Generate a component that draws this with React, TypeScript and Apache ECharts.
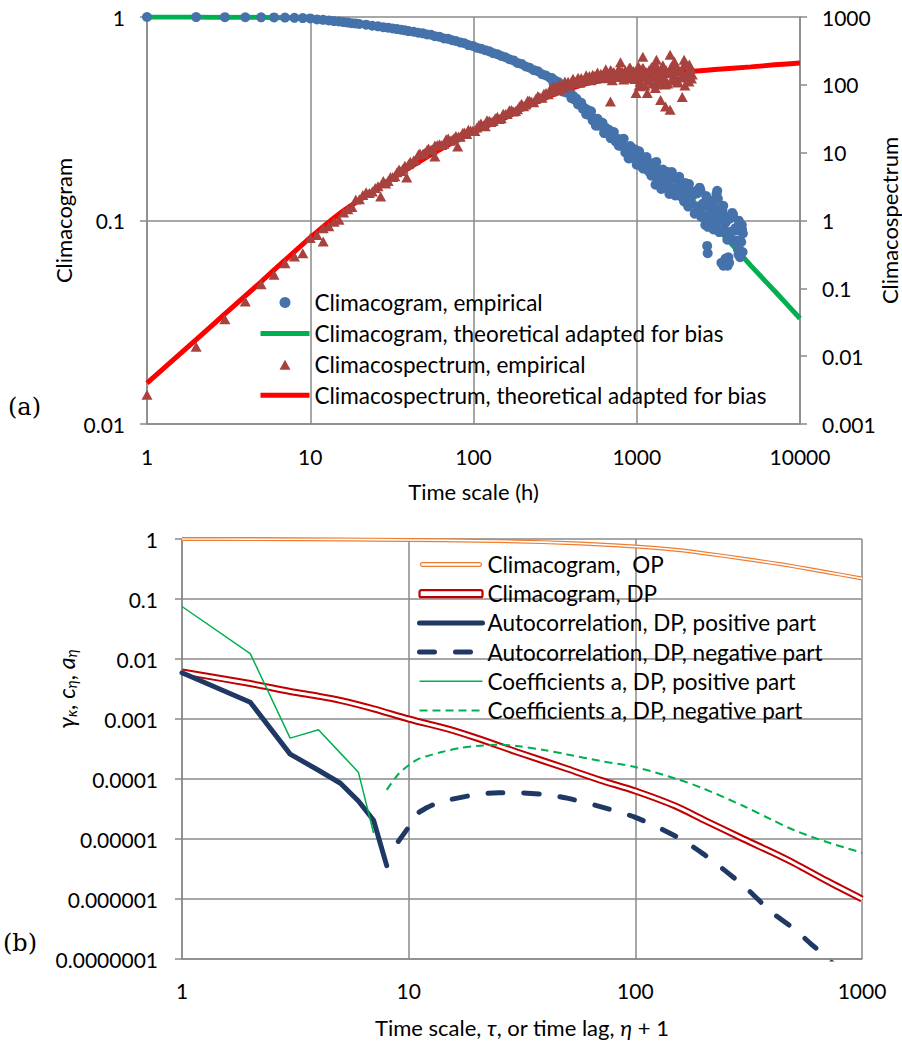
import React, { useEffect, useRef } from 'react';
import * as echarts from 'echarts';

// ---------------- Panel (a) data ----------------
// Empirical climacogram [time scale (h), value]
const climacogramEmpiricalFine: [number, number][] = [
  [1, 1.0], [2, 0.999], [3, 0.998], [4, 0.997], [5, 0.996], [6, 0.995], [7, 0.993], [8, 0.991], [9, 0.988], [10, 0.984],
  [11, 0.973], [12, 0.968], [13, 0.962], [14, 0.955], [15, 0.95], [16, 0.944], [17, 0.939], [18, 0.933], [19, 0.93], [20, 0.924],
  [22, 0.917], [24, 0.906], [26, 0.9], [28, 0.891], [30, 0.886], [32, 0.878], [34, 0.872], [36, 0.866], [38, 0.86], [40, 0.853],
  [43, 0.846], [46, 0.837], [49, 0.831], [52, 0.82], [55, 0.818], [58, 0.805], [62, 0.799], [66, 0.785], [70, 0.781], [74, 0.769],
  [78, 0.762], [83, 0.75], [88, 0.743], [93, 0.728], [99, 0.721], [105, 0.706], [111, 0.699], [118, 0.687], [125, 0.678], [132, 0.664],
  [140, 0.657], [148, 0.643], [157, 0.634], [166, 0.62], [176, 0.612], [186, 0.595], [197, 0.588], [209, 0.571], [221, 0.563], [234, 0.548],
  [248, 0.541], [263, 0.523], [278, 0.516], [295, 0.502],
];
const climacogramEmpiricalMid: [number, number][] = [
  [302, 0.501], [309, 0.474], [316, 0.487], [324, 0.468], [331, 0.479], [339, 0.448], [347, 0.452], [355, 0.429], [363, 0.448], [372, 0.425],
  [380, 0.428], [389, 0.43], [398, 0.399], [407, 0.41], [417, 0.392], [427, 0.397], [437, 0.372], [447, 0.374], [457, 0.379], [468, 0.353],
  [479, 0.357], [490, 0.333], [501, 0.349], [513, 0.329], [525, 0.344], [537, 0.31], [550, 0.317], [562, 0.292], [575, 0.316], [589, 0.292],
  [603, 0.297], [617, 0.302], [631, 0.269], [646, 0.285], [661, 0.27], [676, 0.279], [692, 0.254], [708, 0.261], [724, 0.272], [741, 0.245],
  [759, 0.252], [776, 0.233], [794, 0.251], [813, 0.232], [832, 0.252], [851, 0.216], [871, 0.227], [891, 0.202], [912, 0.232], [933, 0.207],
  [955, 0.215], [977, 0.223], [1000, 0.188], [1023, 0.209], [1047, 0.193], [1072, 0.206], [1096, 0.18], [1122, 0.189], [1148, 0.205], [1175, 0.176],
  [1202, 0.186], [1230, 0.166], [1259, 0.188], [1288, 0.169], [1318, 0.194], [1349, 0.155], [1380, 0.169], [1413, 0.143], [1445, 0.178], [1479, 0.151],
  [1514, 0.162], [1549, 0.173], [1585, 0.135], [1622, 0.16], [1660, 0.144], [1698, 0.161], [1738, 0.133], [1778, 0.145], [1820, 0.164], [1862, 0.132],
  [1905, 0.146], [1950, 0.124], [1995, 0.146], [2042, 0.131], [2089, 0.151], [2138, 0.121], [2188, 0.132],
];
const climacogramEmpiricalMidExtra: [number, number][] = [
  [902, 0.202], [944, 0.225], [989, 0.2], [1035, 0.219], [1084, 0.182], [1135, 0.191], [1189, 0.174], [1245, 0.191], [1303, 0.15], [1365, 0.177],
  [1429, 0.144], [1496, 0.172], [1567, 0.148], [1641, 0.173], [1718, 0.133], [1799, 0.148], [1884, 0.131], [1972, 0.153], [2065, 0.117], [2163, 0.138],
];
const climacogramEmpiricalTail: [number, number][] = [
  [2239, 0.136], [2291, 0.109], [2344, 0.136], [2399, 0.117], [2455, 0.141], [2512, 0.105], [2570, 0.118], [2630, 0.0951], [2692, 0.128], [2754, 0.103],
  [2818, 0.114], [2884, 0.125], [2951, 0.0904], [3020, 0.113], [3090, 0.0982], [3162, 0.114], [3236, 0.0887], [3311, 0.0995], [3388, 0.118], [3467, 0.0883],
  [3548, 0.101], [3631, 0.0813], [3715, 0.102], [3802, 0.0883], [3890, 0.107], [3981, 0.0798], [4074, 0.0895], [4169, 0.0721], [4266, 0.0973], [4365, 0.0783],
  [4467, 0.0863],
  [2265, 0.108], [2317, 0.14], [2371, 0.116], [2427, 0.145], [2483, 0.104], [2541, 0.121], [2600, 0.105], [2661, 0.132], [2723, 0.0931], [2786, 0.119],
  [2851, 0.107], [2917, 0.0962], [2985, 0.125], [3055, 0.101], [3126, 0.113], [3199, 0.0877], [3273, 0.106], [3350, 0.112], [3428, 0.0906], [3508, 0.0979],
  [3589, 0.0804], [3673, 0.104], [3758, 0.0873], [3846, 0.109], [3936, 0.0789], [4027, 0.0918], [4121, 0.0796], [4217, 0.0998], [4315, 0.0706], [4416, 0.0902],
  [2700, 0.075], [2720, 0.069], [3080, 0.135], [3110, 0.14], [3140, 0.128], [3300, 0.062], [3400, 0.06], [3500, 0.065], [3560, 0.064], [3600, 0.06],
  [3640, 0.066], [3680, 0.062], [4200, 0.068], [4300, 0.066], [4400, 0.095], [4450, 0.07],
];

// Empirical climacospectrum [time scale (h), value]
const climacospectrumEmpiricalFine: [number, number][] = [
  [1, 0.0027], [2, 0.0138], [3, 0.035], [4, 0.064], [5, 0.115], [6, 0.158], [7, 0.235], [8, 0.295], [9, 0.33], [10, 0.55],
  [11, 0.61], [12, 0.766], [12, 0.49], [13, 0.82], [14, 0.959], [15, 1.03], [16, 1.31], [17, 1.46], [18, 1.58], [19, 2.04],
  [20, 2.05], [22, 2.6], [24, 2.67], [26, 3.21], [27, 2.26], [28, 3.82], [30, 3.82], [32, 4.37], [34, 5.14], [36, 5.37],
  [38, 6.44], [39, 4.3], [40, 6.73], [43, 7.67], [46, 9.42], [49, 9.64], [52, 11.0], [55, 11.0], [58, 12.8], [58, 8.8],
  [62, 13.3], [66, 13.5], [70, 16.2], [74, 15.5], [78, 17.6], [80, 12.3], [83, 17.2], [88, 19.8], [93, 21.7], [99, 21.0],
  [105, 23.4], [111, 26.8], [118, 24.5], [125, 29.6], [132, 29.4], [140, 33.9], [148, 32.2], [157, 37.0], [166, 42.3], [176, 40.4],
  [186, 43.6], [197, 52.7], [209, 51.5], [221, 58.3], [234, 55.5], [248, 68.2], [263, 64.3], [278, 75.5], [295, 86.3],
];
const climacospectrumEmpiricalFineExtra: [number, number][] = [
  [21, 2.37], [23, 2.54], [25, 3.01], [29, 3.51], [31, 4.38], [33, 4.51], [35, 5.64], [37, 5.79], [41, 7.36], [44, 7.8],
  [47, 9.76], [50, 9.92], [53, 11.5], [56, 11.1], [60, 13.0], [64, 13.0], [68, 15.8], [72, 15.0], [76, 16.4], [81, 17.3],
  [86, 19.7], [91, 18.9], [96, 21.3], [102, 20.9], [108, 25.5], [115, 25.4], [121, 30.0], [128, 28.3], [136, 32.1], [144, 31.4],
  [152, 37.5], [161, 37.3], [171, 42.4], [181, 41.1], [191, 48.5], [203, 48.3], [215, 58.9], [227, 56.4], [241, 62.4], [255, 65.8],
  [270, 74.0], [287, 72.5],
];
const climacospectrumEmpiricalMid: [number, number][] = [
  [302, 80.4], [309, 95.5], [316, 87.1], [324, 95.5], [331, 83.2], [339, 101], [347, 96.6], [355, 90.2], [363, 112], [372, 98.9],
  [380, 111], [389, 97.7], [398, 111], [407, 123], [417, 106], [427, 115], [437, 127], [447, 107], [457, 126], [468, 117],
  [479, 117], [490, 138], [501, 124], [513, 135], [525, 117], [537, 141], [550, 135], [562, 124], [575, 152], [589, 132],
  [603, 146], [617, 127], [631, 143], [646, 170], [661, 125], [676, 143], [692, 166], [708, 117], [724, 154], [741, 133],
  [759, 130], [776, 171], [794, 139], [813, 157], [832, 120], [851, 164], [871, 148], [891, 125], [912, 178], [933, 136],
  [955, 160], [977, 122], [1000, 148], [1023, 188], [1047, 112], [1072, 138], [1096, 176], [1122, 97.7], [1148, 153], [1175, 120],
  [1202, 116], [1230, 182], [1259, 129], [1288, 158], [1318, 101], [1349, 170], [1380, 143], [1413, 108], [1445, 195], [1479, 124],
  [1514, 164], [1549, 105], [1585, 158], [1622, 182], [1660, 121], [1698, 140], [1738, 188], [1778, 110], [1820, 160], [1862, 128],
  [1905, 143], [1950, 196], [1995, 132], [2042, 150], [2089, 112], [2138, 175], [2188, 142],
];
const climacospectrumEmpiricalMidExtra: [number, number][] = [
  [902, 178], [944, 126], [989, 155], [1035, 97.7], [1084, 176], [1135, 129], [1189, 164], [1245, 105], [1303, 195], [1365, 120],
  [1429, 170], [1496, 101], [1567, 148], [1641, 116], [1718, 182], [1799, 108], [1884, 158], [1972, 97.7], [2065, 143], [2163, 124],
  [690, 57], [990, 76], [1160, 76], [1400, 60], [1500, 48], [1600, 43], [1900, 66], [1300, 90], [1050, 95],
  [795, 215], [1090, 260], [1320, 235], [1600, 278], [1950, 235], [1700, 220], [2100, 200],
];

// Theoretical curves (adapted for bias)
const theoryScales = [1, 2, 3, 5, 7, 10, 15, 20, 30, 50, 70, 100, 150, 200, 300, 500, 700, 1000, 1500, 2200, 3000, 5000, 7000, 10000];
const climacogramTheory = [1, 0.999, 0.998, 0.996, 0.992, 0.984, 0.95, 0.925, 0.885, 0.822, 0.78, 0.72, 0.645, 0.585, 0.5, 0.345, 0.268, 0.205, 0.155, 0.125, 0.095, 0.06, 0.045, 0.033];
const climacospectrumTheory = [0.004, 0.0175, 0.042, 0.125, 0.26, 0.56, 1.25, 2.0, 3.8, 8.2, 13, 20, 31, 44, 70, 105, 122, 136, 148, 158, 168, 184, 197, 210];

// ---------------- Panel (b) data ----------------
const opScales = [1, 2, 5, 10, 20, 30, 50, 70, 100, 150, 200, 300, 400, 500, 700, 1000];
const climacogramOP = [1.0, 0.997, 0.985, 0.965, 0.935, 0.91, 0.86, 0.81, 0.75, 0.66, 0.58, 0.47, 0.4, 0.35, 0.28, 0.22];

const dpScales = [1, 2, 3, 4, 5, 7, 10, 15, 20, 30, 50, 70, 100, 150, 200, 300, 400, 500, 700, 1000];
const climacogramDP = [0.0061, 0.0039, 0.00288, 0.0024, 0.00204, 0.00148, 0.001, 0.000676, 0.000479, 0.000282, 0.000148, 0.0000955, 0.000063, 0.0000355, 0.0000209, 0.00001, 0.00000603, 0.00000398, 0.000002, 0.000001];

const acfPosLags = [1, 2, 3, 4, 5, 6, 7, 8];
const acfPositive = [0.0059, 0.0019, 0.00026, 0.00014, 0.000085, 0.000043, 0.0000205, 0.0000036];
const acfNegLags = [9, 10, 11, 12, 13, 15, 20, 25, 30, 40, 50, 70, 100, 150, 200, 300, 400, 500, 600, 700, 800];
const acfNegative = [0.0000091, 0.0000158, 0.0000269, 0.0000331, 0.000038, 0.0000447, 0.000055, 0.0000589, 0.0000589, 0.000055, 0.0000479, 0.0000347, 0.0000229, 0.0000112, 0.0000056, 0.00000166, 0.0000006, 0.00000032, 0.000000174, 0.000000105, 0.000000063];

const coefPosLags = [1, 2, 3, 4, 5, 6, 7];
const coefPositive = [0.075, 0.0123, 0.00048, 0.00066, 0.00027, 0.00013, 0.0000126];
const coefNegLags = [8, 9, 10, 11, 12, 14, 17, 20, 25, 30, 40, 50, 70, 100, 150, 200, 300, 400, 500, 700, 1000];
const coefNegative = [0.000066, 0.00012, 0.00017, 0.000214, 0.00024, 0.000282, 0.000331, 0.000355, 0.000372, 0.000355, 0.000302, 0.000257, 0.0002, 0.000158, 0.000102, 0.0000692, 0.0000355, 0.0000209, 0.0000141, 0.0000089, 0.0000059];

// ---------------- styling ----------------
const FONT = 'Lato, "Noto Sans", sans-serif';
const GRIDC = '#8A8A8A';
const BLUE = '#4672AB';
const BROWN = '#A8423E';
const RED = '#FF0000';
const GREEN = '#00B050';
const ORANGE = '#ED7D31';
const DPRED = '#C00000';
const NAVY = '#1F3864';
const NOSYM = { color: 'rgba(0,0,0,0)', borderColor: 'rgba(0,0,0,0)', borderWidth: 0 };
// legend icons drawn inside the full icon box (leading moveTos fix the box)
const TRIANGLE_ICON = 'path://M0,0M49,11M19,11L24.5,1L30,11Z';
const OP_ICON = 'path://M0,0M63,7M3,1.6L60,1.6A1.9,1.9,0,0,1,60,5.4L3,5.4A1.9,1.9,0,0,1,3,1.6Z';

const zip = (xs: number[], ys: number[]) => xs.map((x, i) => [x, ys[i]]);

function fmtPow(v: number) {
  const e = Math.round(Math.log10(v));
  return e >= 0 ? String(Math.pow(10, e)) : Math.pow(10, e).toFixed(-e);
}

const lineSty = { color: GRIDC, width: 1.5 };
const labelSty = (margin: number) => ({ color: '#000', fontSize: 21, fontFamily: FONT, margin, formatter: fmtPow });
const nameSty = { color: '#000', fontSize: 22, fontFamily: FONT };
const legendText = { fontSize: 22.5, fontFamily: FONT, color: '#000', lineHeight: 22 };

function buildOption(): any {
  return {
    animation: false,
    backgroundColor: '#fff',
    textStyle: { fontFamily: FONT },
    grid: [
      { left: 147, top: 17, width: 653, height: 407, outerBoundsMode: 'none' },
      { left: 182, top: 539, width: 680, height: 420, outerBoundsMode: 'none' },
    ],
    xAxis: [
      {
        type: 'log', gridIndex: 0, min: 1, max: 10000, logBase: 10,
        axisLine: { show: true, lineStyle: lineSty },
        axisTick: { show: false },
        splitLine: { show: true, lineStyle: lineSty },
        axisLabel: labelSty(22),
        name: 'Time scale (h)', nameLocation: 'middle', nameGap: 56, nameMoveOverlap: false,
        nameTextStyle: nameSty,
      },
      {
        type: 'log', gridIndex: 1, min: 1, max: 1000, logBase: 10,
        axisLine: { show: true, lineStyle: lineSty },
        axisTick: { show: false },
        splitLine: { show: true, lineStyle: lineSty },
        axisLabel: labelSty(21),
        name: 'Time scale, {i|τ}, or time lag, {i|η} + 1', nameLocation: 'middle', nameGap: 57, nameMoveOverlap: false,
        nameTextStyle: { ...nameSty, rich: { i: { fontStyle: 'italic', fontSize: 22, fontFamily: FONT, color: '#000' } } },
      },
    ],
    yAxis: [
      {
        type: 'log', gridIndex: 0, min: 0.01, max: 1, logBase: 10, position: 'left',
        axisLine: { show: true, lineStyle: lineSty },
        axisTick: { show: true, length: 7, inside: false, lineStyle: lineSty },
        splitLine: { show: true, lineStyle: lineSty },
        axisLabel: labelSty(22),
        name: 'Climacogram', nameLocation: 'middle', nameRotate: 90, nameGap: 73, nameMoveOverlap: false,
        nameTextStyle: nameSty,
      },
      {
        type: 'log', gridIndex: 0, min: 0.001, max: 1000, logBase: 10, position: 'right',
        axisLine: { show: true, lineStyle: lineSty },
        axisTick: { show: true, length: 7, inside: false, lineStyle: lineSty },
        splitLine: { show: false },
        axisLabel: labelSty(22),
        name: 'Climacospectrum', nameLocation: 'middle', nameRotate: 90, nameGap: 78, nameMoveOverlap: false,
        nameTextStyle: nameSty,
      },
      {
        type: 'log', gridIndex: 1, min: 0.0000001, max: 1, logBase: 10, position: 'left',
        axisLine: { show: true, lineStyle: lineSty },
        axisTick: { show: true, length: 7, inside: false, lineStyle: lineSty },
        splitLine: { show: true, lineStyle: lineSty },
        axisLabel: labelSty(24),
      },
    ],
    legend: [
      {
        orient: 'vertical', left: 258, top: 291, padding: 0, itemWidth: 49, itemHeight: 11, itemGap: 7.9,
        selectedMode: false, symbolKeepAspect: true,
        textStyle: legendText,
        lineStyle: { width: 'inherit' },
        data: [
          { name: 'Climacogram, empirical', icon: 'circle' },
          { name: 'Climacogram, theoretical adapted for bias', lineStyle: { width: 5 }, itemStyle: NOSYM },
          { name: 'Climacospectrum, empirical', icon: TRIANGLE_ICON },
          { name: 'Climacospectrum, theoretical adapted for bias', lineStyle: { width: 5 }, itemStyle: NOSYM },
        ],
      },
      {
        orient: 'vertical', left: 417, top: 553, padding: 0, itemWidth: 63, itemHeight: 7, itemGap: 6.2,
        selectedMode: false,
        textStyle: legendText,
        lineStyle: { width: 'inherit' },
        data: [
          { name: 'Climacogram,  OP', icon: OP_ICON, itemStyle: { color: '#fff', borderColor: ORANGE, borderWidth: 1.2 } },
          { name: 'Climacogram, DP', icon: 'roundRect', itemStyle: { color: '#fff', borderColor: DPRED, borderWidth: 2.2 } },
          { name: 'Autocorrelation, DP, positive part', lineStyle: { width: 5 }, itemStyle: NOSYM },
          { name: 'Autocorrelation, DP, negative part', lineStyle: { width: 5 }, itemStyle: NOSYM },
          { name: 'Coefficients a, DP, positive part', lineStyle: { width: 1.5 }, itemStyle: NOSYM },
          { name: 'Coefficients a, DP, negative part', lineStyle: { width: 2 }, itemStyle: NOSYM },
        ],
      },
    ],
    series: [
      // ---- panel (a)
      {
        type: 'line', name: 'Climacogram, theoretical adapted for bias', xAxisIndex: 0, yAxisIndex: 0,
        data: zip(theoryScales, climacogramTheory), symbol: 'none', smooth: 0.2,
        lineStyle: { color: GREEN, width: 5 }, itemStyle: { color: GREEN }, z: 2,
      },
      {
        type: 'line', name: 'Climacospectrum, theoretical adapted for bias', xAxisIndex: 0, yAxisIndex: 1,
        data: zip(theoryScales, climacospectrumTheory), symbol: 'none', smooth: 0.2,
        lineStyle: { color: RED, width: 5 }, itemStyle: { color: RED }, z: 2,
      },
      {
        type: 'scatter', name: 'Climacogram, empirical', xAxisIndex: 0, yAxisIndex: 0,
        data: [...climacogramEmpiricalFine, ...climacogramEmpiricalMid, ...climacogramEmpiricalMidExtra, ...climacogramEmpiricalTail],
        symbol: 'circle', symbolSize: 10, itemStyle: { color: BLUE, opacity: 1 }, z: 3,
      },
      {
        type: 'scatter', name: 'Climacospectrum, empirical', xAxisIndex: 0, yAxisIndex: 1,
        data: [...climacospectrumEmpiricalFine, ...climacospectrumEmpiricalFineExtra, ...climacospectrumEmpiricalMid, ...climacospectrumEmpiricalMidExtra],
        symbol: 'triangle', symbolSize: [11, 10], itemStyle: { color: BROWN, opacity: 1 }, z: 4,
      },
      // ---- panel (b)
      {
        type: 'line', name: 'Climacogram,  OP', xAxisIndex: 1, yAxisIndex: 2,
        data: zip(opScales, climacogramOP), symbol: 'none', smooth: 0.3,
        lineStyle: { color: ORANGE, width: 4 }, itemStyle: { color: ORANGE }, z: 2,
      },
      {
        type: 'line', name: 'op-inner', xAxisIndex: 1, yAxisIndex: 2,
        data: zip(opScales, climacogramOP), symbol: 'none', smooth: 0.3,
        lineStyle: { color: '#fff', width: 1.6 }, z: 2,
      },
      {
        type: 'line', name: 'Climacogram, DP', xAxisIndex: 1, yAxisIndex: 2,
        data: zip(dpScales, climacogramDP), symbol: 'none', smooth: 0.3,
        lineStyle: { color: DPRED, width: 7 }, itemStyle: { color: DPRED }, z: 2,
      },
      {
        type: 'line', name: 'dp-inner', xAxisIndex: 1, yAxisIndex: 2,
        data: zip(dpScales, climacogramDP), symbol: 'none', smooth: 0.3,
        lineStyle: { color: '#fff', width: 3 }, z: 2,
      },
      {
        type: 'line', name: 'Autocorrelation, DP, positive part', xAxisIndex: 1, yAxisIndex: 2,
        data: zip(acfPosLags, acfPositive), symbol: 'none',
        lineStyle: { color: NAVY, width: 5, cap: 'round', join: 'round' }, itemStyle: { color: NAVY }, z: 3,
      },
      {
        type: 'line', name: 'Autocorrelation, DP, negative part', xAxisIndex: 1, yAxisIndex: 2,
        data: zip(acfNegLags, acfNegative), symbol: 'none', smooth: 0.3,
        lineStyle: { color: NAVY, width: 5, type: [15, 21], cap: 'round' }, itemStyle: { color: NAVY }, z: 3,
      },
      {
        type: 'line', name: 'Coefficients a, DP, positive part', xAxisIndex: 1, yAxisIndex: 2,
        data: zip(coefPosLags, coefPositive), symbol: 'none',
        lineStyle: { color: GREEN, width: 1.5 }, itemStyle: { color: GREEN }, z: 4,
      },
      {
        type: 'line', name: 'Coefficients a, DP, negative part', xAxisIndex: 1, yAxisIndex: 2,
        data: zip(coefNegLags, coefNegative), symbol: 'none', smooth: 0.3,
        lineStyle: { color: GREEN, width: 2, type: [8, 5] }, itemStyle: { color: GREEN }, z: 4,
      },
    ],
    graphic: [
      {
        type: 'text', x: 8, y: 407,
        style: { text: '(a)', fontFamily: '"DejaVu Serif", serif', fontSize: 24, fill: '#000', align: 'left', verticalAlign: 'middle' },
      },
      {
        type: 'text', x: 3, y: 943,
        style: { text: '(b)', fontFamily: '"DejaVu Serif", serif', fontSize: 24, fill: '#000', align: 'left', verticalAlign: 'middle' },
      },
      {
        type: 'text', x: 66, y: 689, rotation: Math.PI / 2,
        style: {
          text: '{i|γ}{s|κ}{n|, }{i|c}{s|η}{n|, }{i|a}{s|η}',
          align: 'center', verticalAlign: 'middle', fill: '#000',
          rich: {
            i: { fontStyle: 'italic', fontSize: 23, fontFamily: FONT, fill: '#000' },
            n: { fontSize: 23, fontFamily: FONT, fill: '#000' },
            s: { fontStyle: 'italic', fontSize: 15, fontFamily: FONT, fill: '#000', padding: [10, 0, 0, 0] },
          },
        },
      },
    ],
  };
}

export default function App() {
  const ref = useRef<HTMLDivElement>(null);
  useEffect(() => {
    if (!ref.current) return;
    const chart = echarts.init(ref.current, null, { renderer: 'svg' });
    chart.setOption(buildOption());
    return () => chart.dispose();
  }, []);
  return (
    <div
      ref={ref}
      style={{ position: 'fixed', left: 0, top: 0, width: 902, height: 1044, background: '#fff' }}
    />
  );
}
